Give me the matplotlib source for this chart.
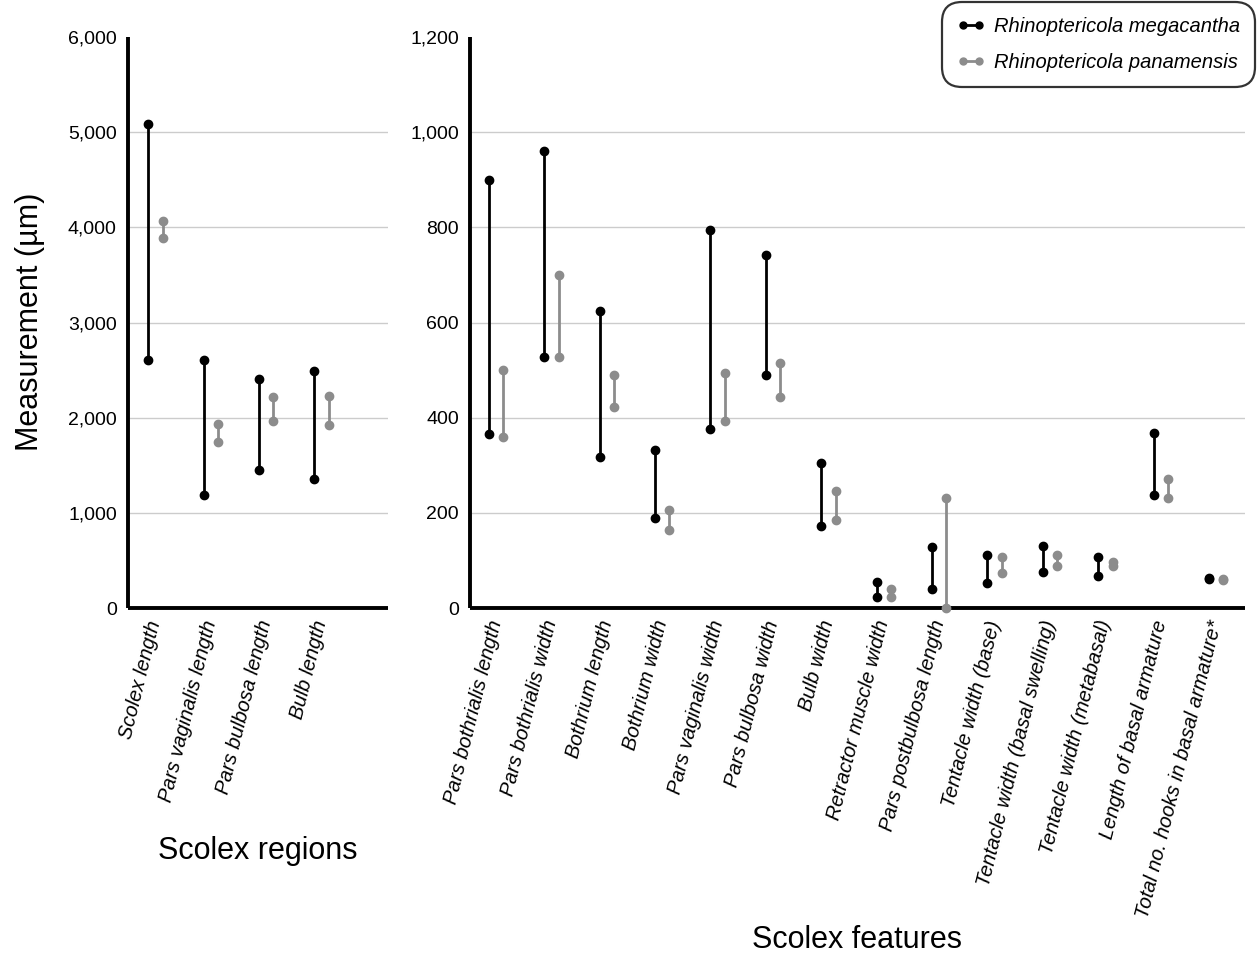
import matplotlib.pyplot as plt
from matplotlib.ticker import FuncFormatter
from matplotlib.lines import Line2D

plt.rcParams['font.family'] = ['Liberation Sans', 'DejaVu Sans']

# left panel: scolex regions
region_labels = ['Scolex length', 'Pars vaginalis length', 'Pars bulbosa length', 'Bulb length']
region_meg_min = [2610, 1190, 1455, 1360]
region_meg_max = [5090, 2605, 2410, 2490]
region_pan_min = [3890, 1750, 1965, 1920]
region_pan_max = [4070, 1935, 2220, 2230]

# right panel: scolex features
feature_labels = ['Pars bothrialis length', 'Pars bothrialis width', 'Bothrium length',
                  'Bothrium width', 'Pars vaginalis width', 'Pars bulbosa width', 'Bulb width',
                  'Retractor muscle width', 'Pars postbulbosa length', 'Tentacle width (base)',
                  'Tentacle width (basal swelling)', 'Tentacle width (metabasal)',
                  'Length of basal armature', 'Total no. hooks in basal armature*']
feature_meg_min = [366, 528, 318, 190, 376, 490, 173, 23, 40, 53, 76, 68, 238, 60]
feature_meg_max = [900, 960, 625, 332, 794, 741, 304, 55, 128, 111, 131, 108, 367, 64]
feature_pan_min = [360, 528, 422, 163, 394, 443, 186, 24, 0, 74, 89, 88, 231, 58]
feature_pan_max = [500, 699, 489, 207, 494, 514, 245, 40, 231, 108, 111, 96, 271, 60]

MEG = 'black'
PAN = '#8c8c8c'
OFF = 0.13


def draw_ranges(ax, n, lo, hi, color, offset):
    for i in range(n):
        ax.plot([i + offset, i + offset], [lo[i], hi[i]], '-o', color=color,
                lw=2.0, ms=6, clip_on=False, zorder=5)


def style(ax, labels, ymax, step):
    ax.set_ylim(0, ymax)
    ax.set_yticks(range(0, ymax + 1, step))
    ax.yaxis.set_major_formatter(FuncFormatter(lambda v, p: f'{int(v):,}'))
    ax.tick_params(axis='y', length=0, pad=8, labelsize=14)
    ax.tick_params(axis='x', length=0, pad=9)
    ax.set_xticks(range(len(labels)))
    ax.set_xticklabels(labels, rotation=76, ha='right', va='center', rotation_mode='anchor',
                       fontsize=14.5, style='italic')
    ax.yaxis.grid(True, color='#cccccc', lw=1)
    ax.get_ygridlines()[-1].set_visible(False)
    ax.get_ygridlines()[0].set_visible(False)
    ax.set_axisbelow(True)
    for s in ['top', 'right']:
        ax.spines[s].set_visible(False)
    for s in ['left', 'bottom']:
        ax.spines[s].set_linewidth(2.8)
        ax.spines[s].set_capstyle('butt')


fig = plt.figure(figsize=(12.57, 9.58), dpi=100)
ax1 = fig.add_axes([0.1018, 0.3653, 0.2068, 0.596])
ax2 = fig.add_axes([0.3739, 0.3653, 0.6166, 0.596])

draw_ranges(ax1, len(region_labels), region_meg_min, region_meg_max, MEG, -OFF)
draw_ranges(ax1, len(region_labels), region_pan_min, region_pan_max, PAN, OFF)
style(ax1, region_labels, 6000, 1000)
ax1.set_xlim(-0.5, 4.2)

draw_ranges(ax2, len(feature_labels), feature_meg_min, feature_meg_max, MEG, -OFF)
draw_ranges(ax2, len(feature_labels), feature_pan_min, feature_pan_max, PAN, OFF)
style(ax2, feature_labels, 1200, 200)
ax2.set_xlim(-0.47, 13.52)

fig.text(0.024, 0.664, 'Measurement (µm)', rotation=90, ha='center', va='center', fontsize=22)
fig.text(0.205, 0.112, 'Scolex regions', ha='center', va='center', fontsize=22)
fig.text(0.682, 0.019, 'Scolex features', ha='center', va='center', fontsize=22)

handles = [Line2D([], [], color=MEG, marker='o', lw=2.0, ms=5),
           Line2D([], [], color=PAN, marker='o', lw=2.0, ms=5)]
leg = fig.legend(handles, ['Rhinoptericola megacantha', 'Rhinoptericola panamensis'],
                 loc='upper right', bbox_to_anchor=(0.9985, 0.998),
                 prop={'style': 'italic', 'size': 14.5}, handlelength=1.4, numpoints=2,
                 handletextpad=0.45, labelspacing=0.85, frameon=True, fancybox=True,
                 borderpad=0.55, borderaxespad=0.2)
leg.get_frame().set_edgecolor('black')
leg.get_frame().set_linewidth(1.6)
leg.get_frame().set_boxstyle('round,pad=0.2,rounding_size=1.0')

fig.savefig('out.png', dpi=100)
